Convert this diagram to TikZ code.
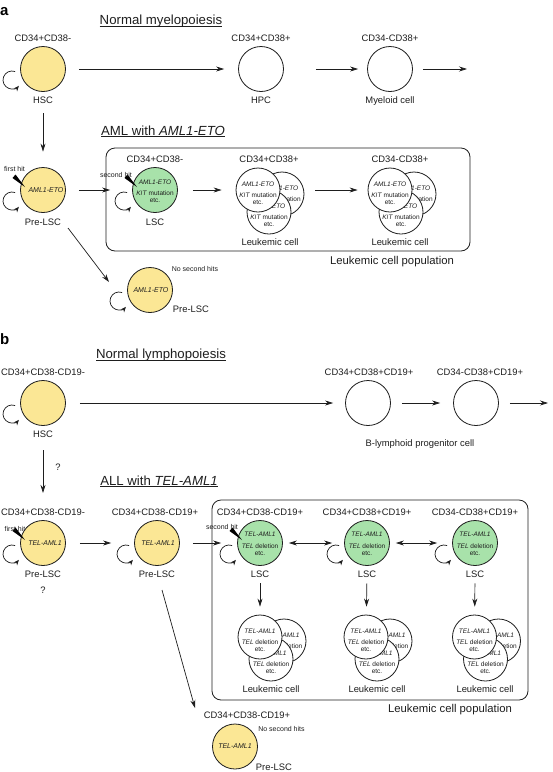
\documentclass[tikz,border=0pt]{standalone}
\usepackage{fontspec}
\setmainfont{Liberation Sans}
\usetikzlibrary{arrows.meta,calc}
\definecolor{yelc}{RGB}{251,231,149}
\definecolor{grnc}{RGB}{168,226,170}
\definecolor{ink}{RGB}{30,30,30}
\tikzset{
  cellc/.style={circle, draw=ink, line width=0.8pt, minimum size=45pt, inner sep=0pt},
  yel/.style={cellc, fill=yelc},
  grn/.style={cellc, fill=grnc},
  wht/.style={cellc, fill=white},
  lcell/.style={cellc, fill=white, minimum size=44pt},
  lab/.style={text=ink, inner sep=0pt, anchor=base, font=\fontsize{9.4}{11}\selectfont},
  popl/.style={text=ink, inner sep=0pt, anchor=base, font=\fontsize{11.3}{13}\selectfont},
  head/.style={text=ink, inner sep=0pt, anchor=base, font=\fontsize{13.2}{15}\selectfont},
  panel/.style={text=black, inner sep=0pt, anchor=base west, font=\fontsize{15}{17}\selectfont\bfseries},
  tiny/.style={text=ink, inner sep=0pt, anchor=base, font=\fontsize{7}{8}\selectfont},
  intxt/.style={text=ink, inner sep=0pt, align=center, font=\fontsize{6.5}{7}\selectfont},
  ytxt/.style={text=ink, inner sep=0pt, font=\fontsize{7}{8}\selectfont\itshape},
  arr/.style={draw=ink, line width=0.7pt, -{Stealth[length=8pt,width=5pt]}},
  darr/.style={draw=ink, line width=0.7pt, {Stealth[length=8pt,width=5pt]}-{Stealth[length=8pt,width=5pt]}},
  looparr/.style={draw=ink, line width=0.7pt, -{Stealth[length=5.5pt,width=4.5pt]}},
  popbox/.style={draw=ink, line width=0.8pt, rounded corners=9pt},
}
\newcommand\selfloop[1]{\draw[looparr] ($(#1)+(-31,11)+(-70:9)$) arc[start angle=-70,end angle=-320,radius=9];}
\newcommand\hitmark[1]{\fill[black] ($(#1)+(-30.5,-12)$) -- ($(#1)+(-27.5,-15.5)$) -- ($(#1)+(-18,-3)$) -- cycle;}
\newcommand\lclus[5]{%
  \node[lcell] (#1r) at (#2+24,#3+4) {};
  \node[intxt] (#1rt) at (#2+24,#3+7.5) {#4\\[4.5pt]#5\\etc.};
  \node[lcell] (#1b) at (#2+11,#3+22) {};
  \node[intxt] (#1bt) at (#2+11,#3+25.5) {#4\\[4.5pt]#5\\etc.};
  \node[lcell] (#1) at (#2,#3) {};
  \node[intxt] (#1t) at (#2,#3+3.5) {#4\\[4.5pt]#5\\etc.};
}
\begin{document}
\begin{tikzpicture}[x=1pt,y=-1pt]
\useasboundingbox (0,0) rectangle (553,772);
\fill[white] (0,0) rectangle (553,772);

% ================= Panel a =================
\node[panel] (pa) at (0,15) {a};
\node[head] (ha1) at (161,24.3) {\underline{\smash{Normal myelopoiesis}}};

\node[yel] (hsca) at (43,69) {};
\selfloop{hsca}
\node[lab] (hsca-t) at (43,41.4) {CD34+CD38-};
\node[lab] (hsca-b) at (43,103.4) {HSC};

\node[wht] (hpc) at (261,69) {};
\node[lab] (hpc-t) at (261,41.4) {CD34+CD38+};
\node[lab] (hpc-b) at (261,103.4) {HPC};

\node[wht] (mye) at (390,69) {};
\node[lab] (mye-t) at (390,41.4) {CD34-CD38+};
\node[lab] (mye-b) at (390,103.4) {Myeloid cell};
\coordinate (mye-end) at (467,69);

\draw[arr, shorten <=13pt, shorten >=14pt] (hsca) -- (hpc);
\draw[arr, shorten <=32pt, shorten >=9pt] (hpc) -- (mye);
\draw[arr, shorten <=10pt] (mye) -- (mye-end);

\node[head] (ha2) at (163,135) {\underline{\smash{AML with \textit{AML1-ETO}}}};

\draw[popbox] (106,148) rectangle (470,251);

\node[yel] (prelsca) at (43,190) {};
\node[ytxt] (prelsca-x) at (46,190) {AML1-ETO};
\selfloop{prelsca}
\hitmark{prelsca}
\node[tiny] (fha) at (14.5,171.5) {first hit};
\node[lab] (prelsca-b) at (43,225.4) {Pre-LSC};

\draw[arr, shorten <=9.6pt, shorten >=15.5pt] (hsca-b) -- (prelsca);

\node[grn] (lsca) at (155,190) {};
\node[intxt] (lsca-x) at (155,191.5) {\textit{AML1-ETO}\\[4.5pt]\textit{KIT} mutation\\etc.};
\selfloop{lsca}
\hitmark{lsca}
\node[tiny] (sha) at (116,177.5) {second hit};
\node[lab] (lsca-t) at (155,162.4) {CD34+CD38-};
\node[lab] (lsca-b) at (155,225.4) {LSC};

\lclus{lca1}{258}{190}{\textit{AML1-ETO}}{\textit{KIT} mutation}
\lclus{lca2}{390}{190}{\textit{AML1-ETO}}{\textit{KIT} mutation}
\node[lab] (lca1-t) at (269,162.4) {CD34+CD38+};
\node[lab] (lca1-b) at (270,245.4) {Leukemic cell};
\node[lab] (lca2-t) at (400,162.4) {CD34-CD38+};
\node[lab] (lca2-b) at (400,245.4) {Leukemic cell};
\node[popl] (popa) at (392,264) {Leukemic cell population};

\draw[arr, shorten <=13pt, shorten >=22pt] (prelsca) -- (lsca);
\draw[arr, shorten <=15pt, shorten >=14pt] (lsca) -- (lca1);
\draw[arr, shorten <=35pt, shorten >=10pt] (lca1) -- (lca2);

\node[yel] (nsa) at (150,290) {};
\node[ytxt] (nsa-x) at (151,290) {AML1-ETO};
\selfloop{nsa}
\node[tiny] (nsa-t) at (195,271.5) {No second hits};
\node[lab] (nsa-b) at (191,312.4) {Pre-LSC};
\coordinate (pa1) at (68,228);
\coordinate (pa2) at (109,282);
\draw[arr] (pa1) -- (pa2);

% ================= Panel b =================
\node[panel] (pb) at (0,344.5) {b};
\node[head] (hb1) at (161,358.5) {\underline{\smash{Normal lymphopoiesis}}};

\node[yel] (hscb) at (43,403) {};
\selfloop{hscb}
\node[lab] (hscb-t) at (43,375.4) {CD34+CD38-CD19-};
\node[lab] (hscb-b) at (43,437.4) {HSC};

\node[wht] (bp1) at (368,403) {};
\node[lab] (bp1-t) at (369,375.4) {CD34+CD38+CD19+};
\node[wht] (bp2) at (476,403) {};
\node[lab] (bp2-t) at (480,375.4) {CD34-CD38+CD19+};
\node[lab] (bp-b) at (420,446.4) {B-lymphoid progenitor cell};
\coordinate (bp-end) at (548,403);

\draw[arr, shorten <=14pt, shorten >=12pt] (hscb) -- (bp1);
\draw[arr, shorten <=11pt, shorten >=13pt] (bp1) -- (bp2);
\draw[arr, shorten <=11pt] (bp2) -- (bp-end);

\node[head] (hb2) at (159,485) {\underline{\smash{ALL with \textit{TEL-AML1}}}};
\node[lab] (qb1) at (58,470.4) {?};

\draw[popbox] (212,500) rectangle (528,700);

\node[yel] (plb1) at (43,543) {};
\node[ytxt] (plb1-x) at (45,543) {TEL-AML1};
\selfloop{plb1}
\hitmark{plb1}
\node[tiny] (fhb) at (15,531.5) {first hit};
\node[lab] (plb1-t) at (43,515.4) {CD34+CD38-CD19-};
\node[lab] (plb1-b) at (43,577.4) {Pre-LSC};
\node[lab] (qb2) at (43,593.4) {?};

\draw[arr, shorten <=12.6pt, shorten >=15.7pt] (hscb-b) -- (plb1-t);

\node[yel] (plb2) at (157,543) {};
\node[ytxt] (plb2-x) at (158,543) {TEL-AML1};
\selfloop{plb2}
\node[lab] (plb2-t) at (155,515.4) {CD34+CD38-CD19+};
\node[lab] (plb2-b) at (157,577.4) {Pre-LSC};

\node[grn] (lscb1) at (260,543) {};
\node[intxt] (lscb1-x) at (260,544) {\textit{TEL-AML1}\\[4.5pt]\textit{TEL} deletion\\etc.};
\selfloop{lscb1}
\hitmark{lscb1}
\node[tiny] (shb) at (222,529.5) {second hit};
\node[lab] (lscb1-t) at (260,515.4) {CD34+CD38-CD19+};
\node[lab] (lscb1-b) at (260,577.4) {LSC};

\node[grn] (lscb2) at (367,543) {};
\node[intxt] (lscb2-x) at (367,544) {\textit{TEL-AML1}\\[4.5pt]\textit{TEL} deletion\\etc.};
\selfloop{lscb2}
\node[lab] (lscb2-t) at (367,515.4) {CD34+CD38+CD19+};
\node[lab] (lscb2-b) at (367,577.4) {LSC};

\node[grn] (lscb3) at (475,543) {};
\node[intxt] (lscb3-x) at (475,544) {\textit{TEL-AML1}\\[4.5pt]\textit{TEL} deletion\\etc.};
\selfloop{lscb3}
\node[lab] (lscb3-t) at (475,515.4) {CD34-CD38+CD19+};
\node[lab] (lscb3-b) at (475,577.4) {LSC};

\draw[arr, shorten <=14pt, shorten >=23pt] (plb1) -- (plb2);
\draw[arr, shorten <=13pt, shorten >=16pt] (plb2) -- (lscb1);
\draw[darr, shorten <=6pt, shorten >=12pt] (lscb1) -- (lscb2);
\draw[darr, shorten <=6pt, shorten >=15pt] (lscb2) -- (lscb3);

\lclus{lcb1}{260}{637}{\textit{TEL-AML1}}{\textit{TEL} deletion}
\lclus{lcb2}{366}{637}{\textit{TEL-AML1}}{\textit{TEL} deletion}
\lclus{lcb3}{474.5}{637}{\textit{TEL-AML1}}{\textit{TEL} deletion}

\draw[arr, shorten <=5.6pt, shorten >=8pt] (lscb1-b) -- (lcb1);
\draw[arr, shorten <=5.6pt, shorten >=8pt] (lscb2-b) -- (lcb2);
\draw[arr, shorten <=5.6pt, shorten >=8pt] (lscb3-b) -- (lcb3);

\node[lab] (lcb1-l) at (271,692.4) {Leukemic cell};
\node[lab] (lcb2-l) at (377,692.4) {Leukemic cell};
\node[lab] (lcb3-l) at (485,692.4) {Leukemic cell};
\node[popl] (popb) at (450,712) {Leukemic cell population};

\node[yel] (nsb) at (235,746.5) {};
\node[ytxt] (nsb-x) at (235,746.5) {TEL-AML1};
\node[lab] (nsb-t) at (247,718.4) {CD34+CD38-CD19+};
\node[tiny] (nsb-n) at (281.5,731.5) {No second hits};
\node[lab] (nsb-b) at (274,770.4) {Pre-LSC};
\coordinate (pb1) at (162,590);
\coordinate (pb2) at (195,708);
\draw[arr] (pb1) -- (pb2);
\end{tikzpicture}
\end{document}
